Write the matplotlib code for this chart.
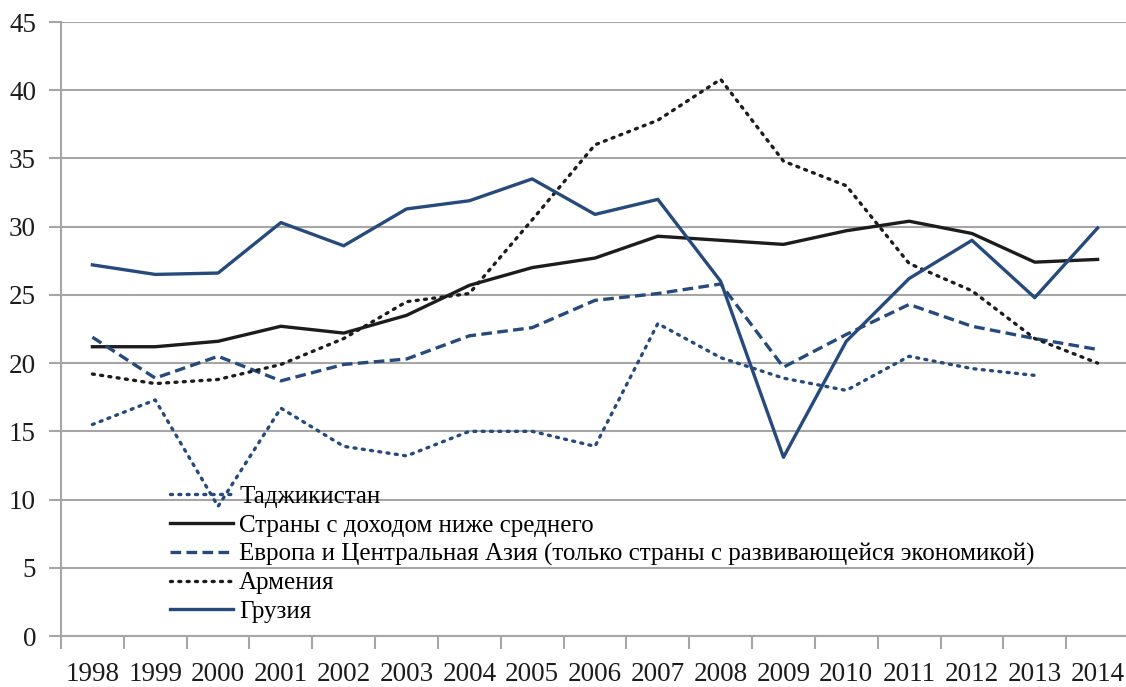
import numpy as np
import matplotlib
matplotlib.use("Agg")
import matplotlib.pyplot as plt

years = [str(y) for y in range(1998, 2015)]

tajikistan = [15.5, 17.3, 9.5, 16.7, 13.9, 13.2, 15.0, 15.0, 13.9, 22.9, 20.4,
              18.9, 18.0, 20.5, 19.6, 19.1, np.nan]
lower_middle = [21.2, 21.2, 21.6, 22.7, 22.2, 23.5, 25.7, 27.0, 27.7, 29.3, 29.0,
                28.7, 29.7, 30.4, 29.5, 27.4, 27.6]
europe_ca = [21.9, 18.9, 20.5, 18.7, 19.9, 20.3, 22.0, 22.6, 24.6, 25.1, 25.8,
             19.7, 22.1, 24.3, 22.7, 21.8, 21.0]
armenia = [19.2, 18.5, 18.8, 19.9, 21.8, 24.5, 25.1, 30.5, 36.0, 37.8, 40.8,
           34.8, 33.0, 27.3, 25.3, 21.8, 20.0]
georgia = [27.2, 26.5, 26.6, 30.3, 28.6, 31.3, 31.9, 33.5, 30.9, 32.0, 26.0,
           13.1, 21.6, 26.2, 29.0, 24.8, 29.9]

labels = ["Таджикистан",
          "Страны с доходом ниже среднего",
          "Европа и Центральная Азия (только страны с развивающейся экономикой)",
          "Армения",
          "Грузия"]

blue = "#254a7b"
black = "#1c1c1c"
grid = "#a6a6a6"

plt.rcParams["font.family"] = ["Liberation Serif", "DejaVu Serif"]

fig = plt.figure(figsize=(11.26, 6.87), dpi=100)
ax = fig.add_axes([61 / 1126, 51 / 687, 1068 / 1126, 614 / 687])

x = np.arange(len(years))
ax.plot(x, tajikistan, color=blue, lw=2.4, linestyle=(0, (0.6, 1.9)),
        dash_capstyle="round", label=labels[0])
ax.plot(x, lower_middle, color=black, lw=2.4, label=labels[1])
ax.plot(x, europe_ca, color=blue, lw=2.4, linestyle=(0, (3.2, 1.6)), label=labels[2])
ax.plot(x, armenia, color=black, lw=2.4, linestyle=(0, (0.6, 1.9)),
        dash_capstyle="round", label=labels[3])
ax.plot(x, georgia, color=blue, lw=2.4, label=labels[4])

ax.set_xlim(-0.5, len(years) - 0.5)
ax.set_ylim(0, 45)
ax.set_yticks(range(0, 46, 5))
ax.set_xticks(x, years)
ax.set_xticks(np.arange(-0.5, len(years)), minor=True)
ax.tick_params(axis="x", which="major", length=0, pad=19, labelsize=19.5, colors=black)
ax.tick_params(axis="x", which="minor", length=9, width=1.5, color=grid)
ax.tick_params(axis="y", length=9, width=1.5, color=grid, labelsize=19.5,
               labelcolor=black, pad=9)

ax.grid(axis="y", color=grid, lw=1.5)
ax.set_axisbelow(True)
for s in ["top", "right"]:
    ax.spines[s].set_visible(False)
ax.spines["left"].set_color(grid)
ax.spines["bottom"].set_color(grid)
ax.spines["left"].set_linewidth(1.5)
ax.spines["bottom"].set_linewidth(1.5)

ax.legend(loc="lower left", bbox_to_anchor=(0.086, -0.007), frameon=False, fontsize=18,
          handlelength=2.5, handletextpad=0.25, labelspacing=0.24, borderpad=0.2)

fig.savefig("out.png", dpi=100)
